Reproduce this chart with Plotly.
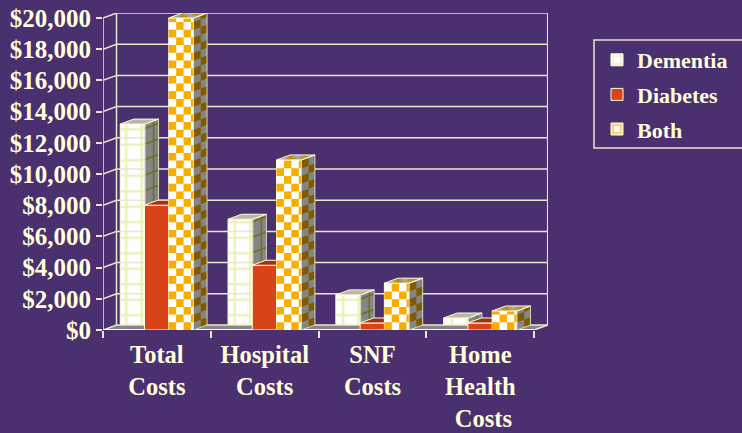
import plotly.graph_objects as go

categories = ["Total<br>Costs", "Hospital<br>Costs", "SNF<br>Costs", "Home<br>Health<br> Costs"]
dementia = [13200, 7100, 2250, 770]
diabetes = [8000, 4150, 450, 450]
both = [20000, 10900, 3000, 1220]
y_ticks = [0, 2000, 4000, 6000, 8000, 10000, 12000, 14000, 16000, 18000, 20000]
y_labels = ["$0", "$2,000", "$4,000", "$6,000", "$8,000", "$10,000", "$12,000", "$14,000", "$16,000", "$18,000", "$20,000"]

BG = "#4B3070"
CREAM = "#FFFFDD"
LINE = "#E9E7CF"
W, H = 742, 433
L, R, T, B = 103, 548, 13, 330
PX_X = 107.8          # px per category
PX_Y = 31.2 / 2000    # px per dollar
DX, DY = 13.5 / PX_X, 5 / PX_Y
XMIN, XMAX = -0.5, (R - L) / PX_X - 0.5
YMAX = (B - T) / PX_Y
BAR_W = 24.8 / PX_X
n = len(categories)
xs = list(range(n))


def cells(faces, cell_u, cell_v, want):
    """Polygons for a checker on a list of faces (origin, U, V vectors) in data units."""
    px, py = [], []
    for (ox, oy), (ux, uy), (vx, vy), lu, lv in faces:
        nu, nv = lu / cell_u, lv / cell_v
        i = 0
        while i < nu:
            j = 0
            while j < nv:
                if (i + j) % 2 == want:
                    s0, s1 = i / nu, min((i + 1) / nu, 1)
                    t0, t1 = j / nv, min((j + 1) / nv, 1)
                    for s, t in [(s0, t0), (s1, t0), (s1, t1), (s0, t1), (s0, t0)]:
                        px.append(ox + s * ux + t * vx)
                        py.append(oy + s * uy + t * vy)
                    px.append(None)
                    py.append(None)
                j += 1
            i += 1
    return px, py


def hatch(faces, cell_u, cell_v):
    """Grid lines on the same kind of faces."""
    px, py = [], []
    for (ox, oy), (ux, uy), (vx, vy), lu, lv in faces:
        nu, nv = lu / cell_u, lv / cell_v
        s = 1 / nu
        while s < 1:
            px += [ox + s * ux, ox + s * ux + vx, None]
            py += [oy + s * uy, oy + s * uy + vy, None]
            s += 1 / nu
        t = 1 / nv
        while t < 1:
            px += [ox + t * vx, ox + t * vx + ux, None]
            py += [oy + t * vy, oy + t * vy + uy, None]
            t += 1 / nv
    return px, py


def quad(faces):
    px, py = [], []
    for (ox, oy), (ux, uy), (vx, vy), _, _ in faces:
        px += [ox, ox + ux, ox + ux + vx, ox + vx, ox, None]
        py += [oy, oy + uy, oy + uy + vy, oy + vy, oy, None]
    return px, py


def poly(px, py, color, ax):
    return go.Scatter(x=px, y=py, mode="lines", fill="toself", fillcolor=color,
                      line=dict(width=0, color=color), hoverinfo="skip", showlegend=False,
                      cliponaxis=False, xaxis=ax[0], yaxis=ax[1])


def stroke(px, py, color, width, ax):
    return go.Scatter(x=px, y=py, mode="lines", line=dict(color=color, width=width),
                      hoverinfo="skip", showlegend=False, cliponaxis=False,
                      xaxis=ax[0], yaxis=ax[1], connectgaps=False)


fig = go.Figure()
base = ("x", "y")

# floor
fig.add_trace(poly([XMIN, XMIN + DX, 3.5 + DX, 3.5, XMIN],
                   [0, DY, DY, 0, 0], "#858585", base))
# back wall lines
gx, gy = [], []
for v in y_ticks:
    gx += [XMIN, XMIN + DX, 3.5 + DX, None]
    gy += [v, v + DY, v + DY, None]
gx += [XMIN + DX, XMIN + DX, None, 3.5 + DX, 3.5 + DX, 3.5, None]
gy += [DY, 20000 + DY, None, 20000 + DY, DY, 0, None]
fig.add_trace(stroke(gx, gy, LINE, 1.5, base))
# front axes
fig.add_trace(stroke([XMIN, XMIN], [0, 20000], LINE, 1.5, base))
fig.add_trace(stroke([XMIN, 3.5], [0, 0], CREAM, 2, base))


def series(name, values, offset, ax, marker, side, top, side_check=None, top_check=None,
           side_grid=None, front_check=None):
    fig.add_trace(go.Bar(x=xs, y=values, name=name, width=BAR_W, offset=offset,
                         marker=marker, legendgroup=name, xaxis=ax[0], yaxis=ax[1]))
    sides, tops, fronts = [], [], []
    for i, v in zip(xs, values):
        xr = i + offset + BAR_W
        xl = i + offset
        sides.append(((xr, 0), (DX, DY), (0, v), 13.5, v * PX_Y))
        tops.append(((xl, v), (BAR_W, 0), (DX, DY), BAR_W * PX_X, 10))
        fronts.append(((xl, 0), (BAR_W, 0), (0, v), BAR_W * PX_X, v * PX_Y))
    fig.add_trace(poly(*quad(sides), side, ax))
    fig.add_trace(poly(*quad(tops), top, ax))
    if side_check:
        fig.add_trace(poly(*cells(sides, 7.2, 7.7, 1), side_check, ax))
    if top_check:
        fig.add_trace(poly(*cells(tops, 7.2, 5, 1), top_check, ax))
    if side_grid:
        fig.add_trace(stroke(*hatch(sides, 8.5, 15.5), side_grid, 1.5, ax))
    if front_check:
        fig.add_trace(poly(*cells(fronts, 7.4, 7.7, 1), "#FFFFFF", ax))
        fig.add_trace(poly(*cells(fronts, 7.4, 7.7, 0), front_check, ax))
    fig.add_trace(stroke(*quad(sides), "#D8D8B8", 1, ax))
    fig.add_trace(stroke(*quad(tops), CREAM, 1, ax))


series("Dementia", dementia, -0.34, ("x", "y"),
       dict(color="#FFFFFF", line=dict(color=CREAM, width=1),
            pattern=dict(shape="+", fgcolor="#DDE27A", bgcolor="#FFFFFF", size=15.5, solidity=0.3)),
       "#858585", "#B8B8A8", side_grid="#6E6E22")
series("Diabetes", diabetes, -0.115, ("x2", "y2"),
       dict(color="#D8431A", line=dict(color=CREAM, width=1)),
       "#8E2C10", "#A5300F")
series("Both", both, 0.11, ("x3", "y3"),
       dict(color="#FFFFFF", line=dict(color=CREAM, width=1),
            pattern=dict(shape="+", fgcolor="#F7AE00", bgcolor="#FFFFFF", size=12, solidity=0.5)),
       "#858585", "#A8A8A0", side_check="#805A00", top_check="#B98C10", front_check="#F7AE00")

y_font = dict(family="Liberation Serif", size=25, color=CREAM, weight="bold")
x_font = dict(family="Liberation Serif", size=24.5, color=CREAM, weight="bold")
hidden = dict(range=[XMIN, XMAX], visible=False, fixedrange=True)
hidden_y = dict(range=[0, YMAX], visible=False, fixedrange=True)

fig.update_layout(
    width=W, height=H, autosize=False,
    margin=dict(l=L, r=W - R, t=T, b=H - B, pad=0, autoexpand=False),
    paper_bgcolor=BG, plot_bgcolor=BG,
    showlegend=True,
    legend=dict(x=(597 - L) / (R - L), y=(B - 39) / (B - T), xanchor="left", yanchor="top",
                font=dict(family="Liberation Serif", size=22, color=CREAM, weight="bold"),
                bgcolor="rgba(0,0,0,0)", borderwidth=0, tracegroupgap=3, traceorder="grouped",
                itemclick=False, itemdoubleclick=False),
    xaxis=dict(range=[XMIN, XMAX], tickmode="array", tickvals=xs, ticktext=categories,
               tickfont=x_font, ticks="outside", ticklen=0, ticklabelstandoff=3,
               showgrid=False, zeroline=False, showline=False, fixedrange=True,
               minor=dict(tickmode="array", tickvals=[-0.5, 0.5, 1.5, 2.5, 3.5], ticks="outside",
                          ticklen=7, tickwidth=1.5, tickcolor=LINE, showgrid=False)),
    yaxis=dict(range=[0, YMAX], tickmode="array", tickvals=y_ticks, ticktext=y_labels,
               tickfont=y_font, ticks="outside", ticklen=6, tickwidth=1.5, tickcolor=LINE,
               ticklabelstandoff=0, showgrid=False, zeroline=False, showline=False, fixedrange=True),
    xaxis2=dict(overlaying="x", **hidden),
    yaxis2=dict(overlaying="y", **hidden_y),
    xaxis3=dict(overlaying="x", **hidden),
    yaxis3=dict(overlaying="y", **hidden_y),
    shapes=[dict(type="rect", xref="paper", yref="paper",
                 x0=(594 - L) / (R - L), x1=(746 - L) / (R - L),
                 y0=(B - 148) / (B - T), y1=(B - 40) / (B - T),
                 line=dict(color="#E6E3C8", width=1.5), fillcolor="rgba(0,0,0,0)")],
)

fig.write_html("out.html", config=dict(displayModeBar=False),
               post_script="document.body.style.margin='0';document.body.style.background='%s';" % BG)
